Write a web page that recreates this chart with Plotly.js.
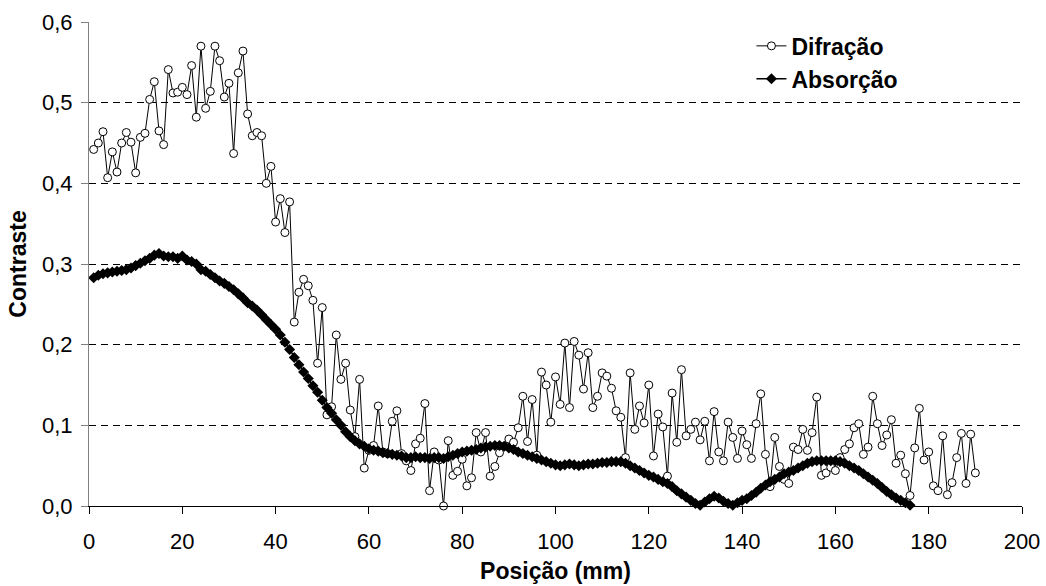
<!DOCTYPE html>
<html>
<head>
<meta charset="utf-8">
<script src="https://cdn.plot.ly/plotly-3.0.1.min.js"></script>
<style>html,body{margin:0;padding:0;background:#fff;}#chart{width:1046px;height:586px;}</style>
</head>
<body>
<div id="chart"></div>
<script>
// Posição (mm)
const posicao = [1,2,3,4,5,6,7,8,9,10,11,12,13,14,15,16,17,18,19,20,
21,22,23,24,25,26,27,28,29,30,31,32,33,34,35,36,37,38,39,40,
41,42,43,44,45,46,47,48,49,50,51,52,53,54,55,56,57,58,59,60,
61,62,63,64,65,66,67,68,69,70,71,72,73,74,75,76,77,78,79,80,
81,82,83,84,85,86,87,88,89,90,91,92,93,94,95,96,97,98,99,100,
101,102,103,104,105,106,107,108,109,110,111,112,113,114,115,116,117,118,119,120,
121,122,123,124,125,126,127,128,129,130,131,132,133,134,135,136,137,138,139,140,
141,142,143,144,145,146,147,148,149,150,151,152,153,154,155,156,157,158,159,160,
161,162,163,164,165,166,167,168,169,170,171,172,173,174,175,176,177,178,179,180,
181,182,183,184,185,186,187,188,189,190];

// Contraste - Difração
const difracao = [0.442,0.450,0.464,0.407,0.439,0.414,0.450,0.463,0.451,0.413,
0.457,0.462,0.504,0.526,0.465,0.448,0.541,0.512,0.513,0.519,
0.510,0.546,0.482,0.570,0.493,0.514,0.570,0.552,0.507,0.524,
0.437,0.537,0.564,0.486,0.459,0.463,0.459,0.400,0.421,0.352,
0.381,0.339,0.377,0.228,0.265,0.281,0.273,0.255,0.177,0.246,
0.113,0.123,0.212,0.157,0.177,0.119,0.086,0.157,0.047,0.069,
0.075,0.124,0.067,0.065,0.105,0.118,0.065,0.056,0.044,0.077,
0.084,0.127,0.019,0.067,0.057,0.000,0.081,0.038,0.043,0.058,
0.025,0.035,0.091,0.067,0.091,0.037,0.049,0.066,0.074,0.083,
0.079,0.097,0.136,0.080,0.132,0.063,0.166,0.150,0.104,0.160,
0.126,0.202,0.122,0.204,0.187,0.145,0.190,0.122,0.136,0.165,
0.161,0.146,0.118,0.110,0.060,0.165,0.095,0.124,0.103,0.150,
0.062,0.114,0.098,0.037,0.140,0.079,0.169,0.087,0.095,0.104,
0.082,0.105,0.056,0.117,0.067,0.056,0.104,0.085,0.059,0.093,
0.076,0.059,0.102,0.139,0.064,0.024,0.085,0.049,0.033,0.028,
0.073,0.070,0.095,0.069,0.091,0.135,0.038,0.041,0.048,0.044,
0.060,0.070,0.077,0.097,0.102,0.064,0.073,0.136,0.102,0.075,
0.088,0.107,0.053,0.063,0.040,0.013,0.072,0.121,0.057,0.067,
0.025,0.019,0.087,0.014,0.029,0.060,0.090,0.028,0.089,0.041];

// Contraste - Absorção
const absorcao = [0.283,0.286,0.288,0.289,0.290,0.291,0.292,0.293,0.295,0.298,
0.301,0.304,0.307,0.311,0.313,0.310,0.309,0.309,0.307,0.310,
0.305,0.303,0.300,0.293,0.291,0.287,0.283,0.279,0.276,0.272,
0.268,0.263,0.258,0.252,0.248,0.243,0.237,0.231,0.225,0.219,
0.212,0.203,0.194,0.184,0.175,0.166,0.158,0.149,0.141,0.131,
0.122,0.115,0.107,0.100,0.092,0.086,0.081,0.077,0.074,0.071,
0.069,0.068,0.066,0.065,0.064,0.063,0.062,0.060,0.060,0.061,
0.060,0.060,0.059,0.060,0.060,0.059,0.061,0.063,0.065,0.067,
0.068,0.069,0.070,0.072,0.073,0.074,0.075,0.075,0.074,0.072,
0.070,0.067,0.065,0.063,0.061,0.059,0.057,0.055,0.053,0.051,
0.050,0.051,0.052,0.051,0.050,0.051,0.052,0.052,0.053,0.054,
0.054,0.055,0.055,0.055,0.053,0.050,0.047,0.044,0.041,0.038,
0.036,0.033,0.030,0.028,0.024,0.019,0.015,0.011,0.007,0.003,
0.001,0.005,0.009,0.012,0.010,0.006,0.003,0.001,0.004,0.007,
0.009,0.013,0.017,0.022,0.026,0.030,0.033,0.036,0.040,0.042,
0.044,0.047,0.050,0.053,0.055,0.056,0.056,0.056,0.056,0.056,
0.055,0.053,0.050,0.047,0.044,0.040,0.036,0.032,0.028,0.023,
0.018,0.014,0.010,0.007,0.004,0.001];

const yTicks = [0,0.1,0.2,0.3,0.4,0.5,0.6];
const xTicks = [0,20,40,60,80,100,120,140,160,180,200];

const FONT = 'Liberation Sans, Arial, sans-serif';

const traces = [
  {
    x: posicao.slice(0, difracao.length), y: difracao, name: 'Difração',
    type: 'scatter', mode: 'lines+markers', cliponaxis: false,
    line: {color: '#000', width: 1},
    marker: {symbol: 'circle', size: 8, color: '#fff', line: {color: '#000', width: 1}}
  },
  {
    x: posicao.slice(0, absorcao.length), y: absorcao, name: 'Absorção',
    type: 'scatter', mode: 'lines+markers', cliponaxis: false,
    line: {color: '#000', width: 1.5},
    marker: {symbol: 'diamond', size: 8.5, color: '#000', line: {color: '#000', width: 0}}
  }
];

const layout = {
  width: 1046, height: 586,
  margin: {l: 89, r: 24, t: 22, b: 80},
  paper_bgcolor: '#fff', plot_bgcolor: '#fff',
  separators: ',.',
  font: {family: FONT, size: 22, color: '#000'},
  showlegend: true,
  legend: {
    x: 0.71, y: 0.995, xanchor: 'left', yanchor: 'top',
    font: {family: FONT, size: 23, color: '#000', weight: 'bold'},
    bgcolor: 'rgba(0,0,0,0)', tracegroupgap: 0,
    itemwidth: 30
  },
  xaxis: {
    range: [0, 200], tickvals: xTicks, ticktext: xTicks.map(String),
    showgrid: false, zeroline: false,
    showline: true, linecolor: '#000', linewidth: 1,
    ticks: 'outside', ticklen: 7, tickcolor: '#000', tickwidth: 1,
    ticklabelstandoff: 9,
    tickfont: {family: FONT, size: 22, color: '#000'},
    title: {text: 'Posição (mm)', font: {family: FONT, size: 23, color: '#000', weight: 'bold'}, standoff: 9},
    fixedrange: true
  },
  yaxis: {
    range: [0, 0.6], tickvals: yTicks, tickformat: '.1f',
    showgrid: true, gridcolor: '#000', gridwidth: 1, griddash: '7px,5px',
    zeroline: false,
    showline: true, linecolor: '#808080', linewidth: 1,
    ticks: 'outside', ticklen: 7, tickcolor: '#808080', tickwidth: 1,
    ticklabelstandoff: 4,
    tickfont: {family: FONT, size: 22, color: '#000'},
    title: {text: 'Contraste', font: {family: FONT, size: 23, color: '#000', weight: 'bold'}, standoff: 8},
    fixedrange: true
  }
};

Plotly.newPlot('chart', traces, layout, {staticPlot: true, displayModeBar: false});
</script>
</body>
</html>
